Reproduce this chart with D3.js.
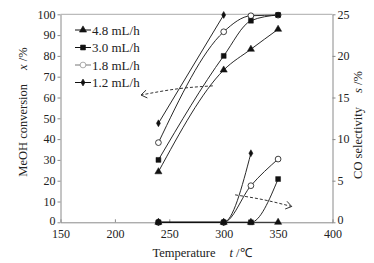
<!DOCTYPE html>
<html>
<head>
<meta charset="utf-8">
<script src="https://cdn.jsdelivr.net/npm/d3@7"></script>
<style>
  body { margin: 0; background: #fff; }
  text { font-family: "Liberation Serif", "Times New Roman", serif; }
</style>
</head>
<body>
<div id="chart"></div>
<script>
// temperatures (°C) and the four feed rates
const temps = [240, 300, 325, 350]
const rates = ["4.8 mL/h", "3.0 mL/h", "1.8 mL/h", "1.2 mL/h"]
const markers = ["triangle", "square", "circle", "diamond"]

// MeOH conversion x /%
const conv48 = [24.3, 73.2, 83.2, 92.8]
const conv30 = [30, 80, 96.9, 99.7]
const conv18 = [38.3, 91.6, 99.3, 99.6]
const conv12 = [47.6, 99.7]

// CO selectivity s /%
const sel48 = [0, 0, 0, 0]
const sel30 = [0, 0, 0, 5.2]
const sel18 = [0, 0, 4.4, 7.6]
const sel12 = [0, 0, 8.3]

const xTicks = [150, 200, 250, 300, 350, 400]
const yTicks = [0, 10, 20, 30, 40, 50, 60, 70, 80, 90, 100]
const sTicks = [0, 5, 10, 15, 20, 25]

const width = 374, height = 263
const svg = d3.select("#chart")
  .append("svg")
    .attr("width", width)
    .attr("height", height)

const x = d3.scaleLinear().domain([150, 400]).range([60.5, 332.5])
const y = d3.scaleLinear().domain([0, 100]).range([222.3, 14.3])
const s = d3.scaleLinear().domain([0, 25]).range([222.3, 14.3])

const frame = "#8a8a8a"

// axes
const xAxis = svg.append("g")
  .attr("transform", `translate(0,${y(0)})`)
  .call(d3.axisBottom(x).tickValues(xTicks).tickSizeInner(-3).tickSizeOuter(0).tickPadding(9))
const yAxis = svg.append("g")
  .attr("transform", `translate(${x(150)},0)`)
  .call(d3.axisLeft(y).tickValues(yTicks).tickSize(3).tickSizeOuter(0).tickPadding(2))
const sAxis = svg.append("g")
  .attr("transform", `translate(${x(400)},0)`)
  .call(d3.axisRight(s).tickValues(sTicks).tickSize(3).tickSizeOuter(0).tickPadding(2))

svg.append("line")
  .attr("x1", x(150)).attr("x2", x(400))
  .attr("y1", y(100)).attr("y2", y(100))
  .attr("stroke", "#aaa")

;[xAxis, yAxis, sAxis].forEach(g => {
  g.selectAll("path, line").attr("stroke", frame)
  g.selectAll("text")
    .attr("font-family", "Liberation Serif")
    .attr("font-size", 12)
    .attr("fill", "#222")
})
xAxis.selectAll("text").attr("dy", "0.6em")
// the two zero labels sit just above the corner x labels
yAxis.selectAll("text").filter(d => d === 0).attr("dy", "0.2em")
sAxis.selectAll("text").filter(d => d === 0).attr("dy", "0.1em")

// axis titles
const ttl = (t, px, py, rot, a, b) => {
  const el = svg.append("text")
    .attr("transform", `translate(${px},${py}) rotate(${rot})`)
    .attr("text-anchor", "middle")
    .attr("font-size", 12.5)
    .attr("fill", "#222")
  el.append("tspan").text(a)
  el.append("tspan").attr("dx", 14).attr("font-style", "italic").text(b)
  el.append("tspan").text(t)
}
ttl(" /%", 27, 112, -90, "MeOH conversion", "x")
ttl(" /%", 362, 125, -90, "CO selectivity", "s")
ttl(" /\u2103", 202, 257, 0, "Temperature", "t")

// series
const convs = [conv48, conv30, conv18, conv12]
const sels = [sel48, sel30, sel18, sel12]

const line = d3.line().curve(d3.curveMonotoneX)

const symbolFor = m => ({
  triangle: d3.symbol(d3.symbolTriangle, 22),
  square: d3.symbol(d3.symbolSquare, 24),
  circle: d3.symbol(d3.symbolCircle, 26),
  diamond: d3.symbol(d3.symbolDiamond, 14)
})[m]

const drawSeries = (vals, scale, i) => {
  const pts = vals.map((v, j) => [x(temps[j]), scale(v)])
  svg.append("path")
    .attr("d", line(pts))
    .attr("fill", "none")
    .attr("stroke", "#111")
    .attr("stroke-width", 0.9)
  return pts
}

const allPts = []
convs.forEach((c, i) => allPts.push([drawSeries(c, y, i), i]))
sels.forEach((c, i) => allPts.push([drawSeries(c, s, i), i]))

// markers drawn on top, 4.8 first so squares cover the zero row
;[3, 2, 0, 1].forEach(i => {
  allPts.filter(p => p[1] === i).forEach(p => {
    svg.selectAll(null)
      .data(p[0])
      .enter()
      .append("path")
        .attr("d", symbolFor(markers[i]))
        .attr("transform", d => `translate(${d[0]},${d[1]})`)
        .attr("fill", markers[i] === "circle" ? "#fff" : "#111")
        .attr("stroke", "#111")
        .attr("stroke-width", markers[i] === "circle" ? 0.8 : 0.5)
  })
})

// legend
const lg = svg.append("g")
rates.forEach((r, i) => {
  const ly = 30 + i * 17.5
  const col = markers[i] === "circle" ? "#777" : "#111"
  lg.append("line")
    .attr("x1", 75).attr("x2", 91)
    .attr("y1", ly).attr("y2", ly)
    .attr("stroke", col).attr("stroke-width", 1)
  lg.append("path")
    .attr("d", symbolFor(markers[i]))
    .attr("transform", `translate(83,${ly})`)
    .attr("fill", markers[i] === "circle" ? "#fff" : "#111")
    .attr("stroke", col)
    .attr("stroke-width", 0.6)
  lg.append("text")
    .attr("x", 92).attr("y", ly + 4.5)
    .attr("font-size", 13)
    .attr("fill", "#222")
    .text(r)
})

// dashed arrows pointing to the axes (in data units)
const arrowConv = [[290, 65.6], [258, 64.2], [224, 61.2]]
const arrowSel = [[310.5, 3.3], [337, 2.7], [362.5, 1.9]]

const curvy = d3.line().curve(d3.curveNatural)
const drawArrow = (pts, scale) => {
  const p = pts.map(d => [x(d[0]), scale(d[1])])
  svg.append("path")
    .attr("d", curvy(p))
    .attr("fill", "none")
    .attr("stroke", "#333")
    .attr("stroke-width", 1)
    .attr("stroke-dasharray", "3,2")
  const a = p[p.length - 1], b = p[p.length - 2]
  const ang = Math.atan2(a[1] - b[1], a[0] - b[0])
  const hl = 7, spread = 0.6
  const h1 = [a[0] - hl * Math.cos(ang - spread), a[1] - hl * Math.sin(ang - spread)]
  const h2 = [a[0] - hl * Math.cos(ang + spread), a[1] - hl * Math.sin(ang + spread)]
  svg.append("path")
    .attr("d", d3.line()([h1, a, h2]))
    .attr("fill", "none")
    .attr("stroke", "#333")
    .attr("stroke-width", 1)
}
drawArrow(arrowConv, y)
drawArrow(arrowSel, s)
</script>
</body>
</html>
